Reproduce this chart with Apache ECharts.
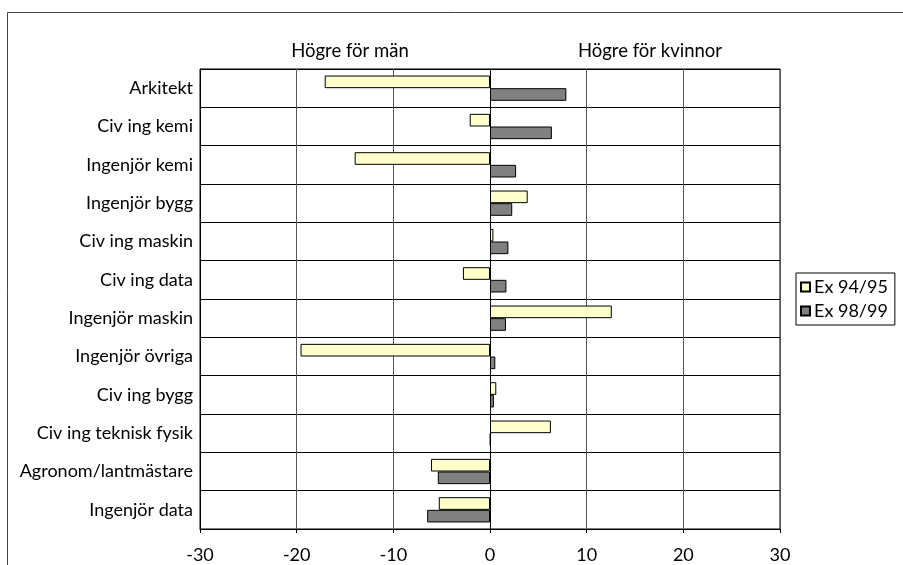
<!DOCTYPE html>
<html>
<head>
<meta charset="utf-8">
<script src="https://cdn.jsdelivr.net/npm/echarts@6/dist/echarts.min.js"></script>
<style>
  html, body { margin: 0; padding: 0; background: #fff; }
  #chart { width: 903px; height: 565px; }
</style>
</head>
<body>
<div id="chart"></div>
<script>
// kategorier (uppifrån och ned)
const categories = [
  'Arkitekt', 'Civ ing kemi', 'Ingenjör kemi', 'Ingenjör bygg', 'Civ ing maskin',
  'Civ ing data', 'Ingenjör maskin', 'Ingenjör övriga', 'Civ ing bygg',
  'Civ ing teknisk fysik', 'Agronom/lantmästare', 'Ingenjör data'
];
// Ex 94/95
const ex9495 = [-17.1, -2.1, -14.0, 3.9, 0.35, -2.8, 12.6, -19.6, 0.65, 6.3, -6.1, -5.3];
// Ex 98/99
const ex9899 = [7.9, 6.4, 2.7, 2.3, 1.9, 1.7, 1.65, 0.55, 0.4, 0.05, -5.4, -6.5];
const xTicks = { min: -30, max: 30, interval: 10 };

const font = 'Lato';
const chart = echarts.init(document.getElementById('chart'));

const option = {
  animation: false,
  textStyle: { fontFamily: font, color: '#000' },
  title: [
    { text: 'Högre för män', left: 345, top: 37, textAlign: 'center',
      textStyle: { fontFamily: font, fontSize: 18.5, fontWeight: 'normal', color: '#000' } },
    { text: 'Högre för kvinnor', left: 645, top: 37, textAlign: 'center',
      textStyle: { fontFamily: font, fontSize: 18.5, fontWeight: 'normal', color: '#000' } }
  ],
  legend: {
    orient: 'vertical',
    left: 796,
    top: 273,
    padding: [5, 7, 5, 4],
    itemGap: 6,
    itemWidth: 9,
    itemHeight: 9,
    icon: 'rect',
    borderColor: '#000',
    borderWidth: 1,
    textStyle: { fontFamily: font, fontSize: 18, color: '#000', padding: [0, 0, 0, -1] },
    data: ['Ex 94/95', 'Ex 98/99']
  },
  grid: {
    left: 200, right: 123, top: 69, bottom: 36,
    show: true, borderColor: '#000', borderWidth: 1
  },
  xAxis: {
    type: 'value',
    min: xTicks.min, max: xTicks.max, interval: xTicks.interval,
    axisLine: { show: true, lineStyle: { color: '#000' } },
    axisTick: { show: true, length: 4, lineStyle: { color: '#000' } },
    axisLabel: { fontFamily: font, fontSize: 18, color: '#000', margin: 17 },
    splitLine: { show: true, lineStyle: { color: '#555' } }
  },
  yAxis: [
    {
      type: 'category',
      data: categories,
      inverse: true,
      position: 'left',
      axisLine: { show: true, onZero: false, lineStyle: { color: '#000' } },
      axisTick: { show: false },
      axisLabel: { fontFamily: font, fontSize: 18, color: '#000', margin: 7 },
      splitLine: { show: true, lineStyle: { color: '#000' } }
    },
    {
      type: 'category',
      data: categories,
      inverse: true,
      position: 'left',
      axisLine: { show: true, onZero: true, lineStyle: { color: '#000' } },
      axisTick: { show: true, length: 5, lineStyle: { color: '#000' } },
      axisLabel: { show: false },
      splitLine: { show: false }
    }
  ],
  series: [
    {
      name: 'Ex 94/95',
      type: 'bar',
      data: ex9495,
      barGap: '0%',
      barCategoryGap: '34%',
      itemStyle: { color: '#FFFFCC', borderColor: '#000', borderWidth: 1 }
    },
    {
      name: 'Ex 98/99',
      type: 'bar',
      data: ex9899,
      barGap: '0%',
      barCategoryGap: '34%',
      itemStyle: { color: '#808080', borderColor: '#000', borderWidth: 1 }
    }
  ],
  graphic: [
    {
      type: 'rect',
      silent: true,
      shape: { x: 7.5, y: 12.5, width: 1200, height: 1200 },
      style: { fill: 'none', stroke: '#444', lineWidth: 1 }
    }
  ]
};

chart.setOption(option);
</script>
</body>
</html>
